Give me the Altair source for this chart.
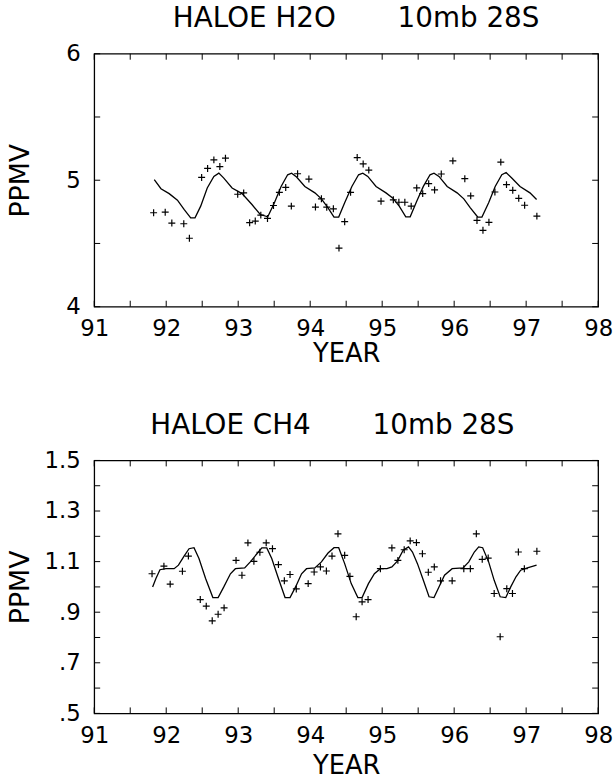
import altair as alt
import pandas as pd

# ---------------- data ----------------
# HALOE H2O 10mb 28S : measurements (+)
h2o_pt_year = [91.825, 91.986, 92.078, 92.244, 92.322, 92.492, 92.575, 92.662, 92.745, 92.823,
               92.993, 93.076, 93.159, 93.237, 93.314, 93.407, 93.49, 93.572, 93.66, 93.738,
               93.825, 93.982, 94.073, 94.156, 94.23, 94.322, 94.4, 94.479, 94.561, 94.653,
               94.736, 94.814, 94.984, 95.155, 95.232, 95.315, 95.403, 95.48, 95.563, 95.646,
               95.728, 95.821, 95.982, 96.148, 96.23, 96.317, 96.4, 96.483, 96.566, 96.648,
               96.727, 96.814, 96.897, 96.979, 97.149]
h2o_pt_val = [4.743, 4.747, 4.661, 4.656, 4.541, 5.022, 5.093, 5.161, 5.108, 5.174,
              4.889, 4.900, 4.664, 4.677, 4.724, 4.698, 4.800, 4.904, 4.943, 4.795,
              5.051, 5.009, 4.788, 4.853, 4.787, 4.774, 4.463, 4.672, 4.904, 5.179,
              5.129, 5.080, 4.834, 4.845, 4.826, 4.826, 4.795, 4.939, 4.894, 4.973,
              4.923, 5.049, 5.153, 5.012, 4.876, 4.682, 4.604, 4.667, 4.907, 5.143,
              4.965, 4.920, 4.857, 4.802, 4.716]
# HALOE H2O fitted curve
h2o_line_year = [91.834, 91.927, 92.041, 92.156, 92.248, 92.34, 92.4, 92.479, 92.57, 92.662,
                 92.731, 92.8, 92.915, 93.053, 93.191, 93.306, 93.411, 93.503, 93.596, 93.687,
                 93.742, 93.811, 93.926, 94.065, 94.156, 94.248, 94.331, 94.396, 94.479, 94.579,
                 94.672, 94.731, 94.8, 94.915, 95.053, 95.145, 95.237, 95.328, 95.389, 95.48,
                 95.572, 95.665, 95.72, 95.789, 95.903, 96.041, 96.134, 96.225, 96.327, 96.386,
                 96.479, 96.57, 96.662, 96.722, 96.8, 96.915, 97.053, 97.145]
h2o_line_val = [5.004, 4.933, 4.894, 4.842, 4.769, 4.703, 4.703, 4.795, 4.939, 5.030,
                5.056, 5.017, 4.939, 4.894, 4.808, 4.729, 4.711, 4.821, 4.951, 5.043,
                5.056, 5.025, 4.951, 4.900, 4.853, 4.782, 4.709, 4.709, 4.821, 4.951,
                5.043, 5.056, 5.030, 4.951, 4.900, 4.860, 4.795, 4.711, 4.711, 4.834,
                4.951, 5.043, 5.056, 5.030, 4.951, 4.900, 4.853, 4.782, 4.709, 4.709,
                4.821, 4.951, 5.043, 5.061, 5.017, 4.951, 4.900, 4.847]

# HALOE CH4 10mb 28S : measurements (+)
ch4_pt_year = [91.803, 91.968, 92.055, 92.225, 92.308, 92.473, 92.556, 92.639, 92.721, 92.804,
               92.97, 93.052, 93.135, 93.218, 93.301, 93.389, 93.476, 93.559, 93.641, 93.72,
               93.807, 93.972, 94.055, 94.142, 94.225, 94.303, 94.386, 94.479, 94.552, 94.639,
               94.721, 94.804, 94.975, 95.135, 95.218, 95.306, 95.389, 95.476, 95.559, 95.641,
               95.724, 95.811, 95.972, 96.134, 96.225, 96.308, 96.39, 96.473, 96.556, 96.639,
               96.731, 96.81, 96.892, 96.975, 97.149]
ch4_pt_val = [1.052, 1.082, 1.011, 1.062, 1.122, 0.950, 0.924, 0.866, 0.892, 0.917,
              1.105, 1.046, 1.174, 1.101, 1.137, 1.174, 1.151, 1.088, 1.024, 1.049,
              0.992, 1.013, 1.059, 1.079, 1.063, 1.122, 1.210, 1.125, 1.042, 0.882,
              0.941, 0.950, 1.072, 1.154, 1.105, 1.147, 1.182, 1.175, 1.131, 1.058,
              1.079, 1.024, 1.024, 1.072, 1.072, 1.210, 1.109, 1.114, 0.974, 0.803,
              0.993, 0.974, 1.138, 1.072, 1.141]
# HALOE CH4 fitted curve
ch4_line_year = [91.811, 91.857, 91.913, 91.996, 92.11, 92.17, 92.248, 92.317, 92.386, 92.455,
                 92.547, 92.648, 92.721, 92.8, 92.892, 92.961, 93.09, 93.168, 93.26, 93.328,
                 93.397, 93.466, 93.559, 93.651, 93.72, 93.797, 93.88, 93.949, 94.065, 94.156,
                 94.248, 94.331, 94.396, 94.479, 94.57, 94.662, 94.721, 94.809, 94.892, 94.975,
                 95.066, 95.135, 95.214, 95.292, 95.366, 95.421, 95.49, 95.572, 95.651, 95.72,
                 95.789, 95.866, 95.972, 96.124, 96.203, 96.28, 96.341, 96.396, 96.479, 96.556,
                 96.639, 96.717, 96.786, 96.859, 96.924, 97.017, 97.145]
ch4_line_val = [1.000, 1.033, 1.068, 1.072, 1.072, 1.086, 1.122, 1.151, 1.155, 1.112,
                1.033, 0.958, 0.958, 1.000, 1.052, 1.072, 1.075, 1.099, 1.131, 1.154,
                1.154, 1.112, 1.033, 0.958, 0.958, 1.000, 1.052, 1.072, 1.075, 1.099,
                1.134, 1.155, 1.155, 1.092, 1.013, 0.958, 0.958, 1.013, 1.052, 1.072,
                1.072, 1.079, 1.103, 1.145, 1.158, 1.138, 1.092, 1.026, 0.961, 0.958,
                1.000, 1.046, 1.072, 1.075, 1.099, 1.138, 1.158, 1.155, 1.099, 1.026,
                0.961, 0.958, 1.000, 1.040, 1.066, 1.075, 1.086]

# axis labels and tick positions
x_label_values = [91, 92, 93, 94, 95, 96, 97, 98]
x_tick_values = [91, 91.5, 92, 92.5, 93, 93.5, 94, 94.5, 95, 95.5, 96, 96.5, 97, 97.5, 98]
h2o_y_labels = [4, 5, 6]
h2o_y_ticks = [4, 4.5, 5, 5.5, 6]
ch4_y_labels = [0.5, 0.7, 0.9, 1.1, 1.3, 1.5]
ch4_y_ticks = [0.5, 0.6, 0.7, 0.8, 0.9, 1.0, 1.1, 1.2, 1.3, 1.4, 1.5]

W, H = 508, 255
FONT = "DejaVu Sans"
TICK = 6
NB = "\u00a0"


def panel(title, dx, pyear, pval, lyear, lval, ydom, ylabels, yticks, label_expr, tpad):
    xs = alt.Scale(domain=[91, 98], nice=False, zero=False)
    ys = alt.Scale(domain=ydom, nice=False, zero=False)
    pts_df = pd.DataFrame({"year": pyear, "val": pval})
    line_df = pd.DataFrame({"year": lyear, "val": lval})
    xt_df = pd.DataFrame({"year": x_tick_values})
    yt_df = pd.DataFrame({"val": yticks})

    x_axis = alt.Axis(values=x_label_values, ticks=False, domain=False, grid=False,
                      labelFontSize=23, labelFont=FONT, labelPadding=11, labelFlush=False,
                      labelColor="black", format="d",
                      title="YEAR", titleFont=FONT, titleFontSize=26, titleFontWeight="normal",
                      titleColor="black", titlePadding=tpad)
    y_axis = alt.Axis(values=ylabels, ticks=False, domain=False, grid=False,
                      labelFontSize=23, labelFont=FONT, labelPadding=14, labelFlush=False,
                      labelColor="black", labelExpr=label_expr,
                      title="PPMV", titleFont=FONT, titleFontSize=27, titleFontWeight="normal",
                      titleColor="black", titleAngle=270, titleX=-74, titleY=H / 2,
                      titleAlign="center", titleBaseline="middle")
    X = alt.X("year:Q", scale=xs, axis=x_axis)
    Y = alt.Y("val:Q", scale=ys, axis=y_axis)

    line = alt.Chart(line_df).mark_line(color="black", strokeWidth=1.3).encode(x=X, y=Y)
    pts = alt.Chart(pts_df).mark_point(
        shape="M-1,0L1,0M0,-1L0,1", filled=False, size=49, color="black",
        strokeWidth=1.2, opacity=1
    ).encode(x=X, y=Y)
    bot = alt.Chart(xt_df).mark_rule(color="black", strokeWidth=1).encode(
        x=X, y=alt.value(H), y2=alt.value(H - TICK))
    top = alt.Chart(xt_df).mark_rule(color="black", strokeWidth=1).encode(
        x=X, y=alt.value(0), y2=alt.value(TICK))
    left = alt.Chart(yt_df).mark_rule(color="black", strokeWidth=1).encode(
        y=Y, x=alt.value(0), x2=alt.value(TICK))
    right = alt.Chart(yt_df).mark_rule(color="black", strokeWidth=1).encode(
        y=Y, x=alt.value(W), x2=alt.value(W - TICK))

    return alt.layer(line, pts, bot, top, left, right).properties(
        width=W, height=H,
        title=alt.Title(title, font=FONT, fontSize=28, fontWeight="normal", color="black",
                        anchor="middle", baseline="alphabetic", offset=-12, dx=dx),
    )


top_chart = panel("HALOE H2O" + NB * 7 + "10mb 28S", 10, h2o_pt_year, h2o_pt_val, h2o_line_year,
                  h2o_line_val, [4, 6], h2o_y_labels, h2o_y_ticks, "format(datum.value, 'd')", 0)
bottom_chart = panel("HALOE CH4" + NB * 7 + "10mb 28S", -14, ch4_pt_year, ch4_pt_val, ch4_line_year,
                     ch4_line_val, [0.5, 1.5], ch4_y_labels, ch4_y_ticks,
                     "datum.value < 1 ? substring(format(datum.value, '.1f'), 1) : format(datum.value, '.1f')",
                     6)

chart = alt.vconcat(top_chart, bottom_chart, spacing=44).properties(
    padding={"left": 6, "top": 1, "right": 0, "bottom": 0},
    background="white",
).configure_view(stroke="black", strokeWidth=1.3)

chart.save("out.html", embed_options={"renderer": "svg", "actions": False})
